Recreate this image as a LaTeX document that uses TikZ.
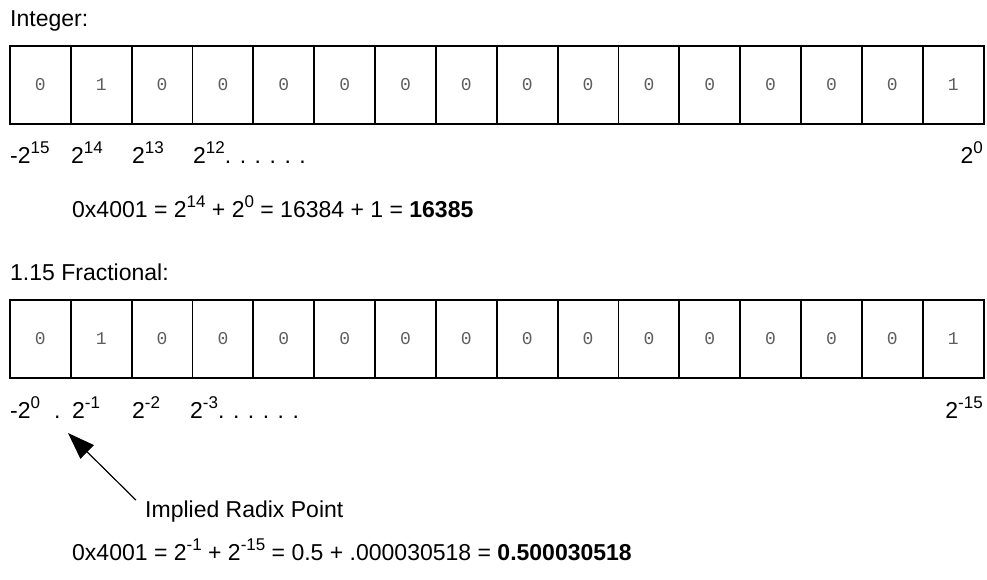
\documentclass[tikz,border=0pt]{standalone}
\usepackage{fontspec}
\setmainfont{Liberation Sans}
\newfontfamily\bitfont{Liberation Mono}
\usetikzlibrary{arrows.meta,positioning}
\definecolor{bitgray}{HTML}{5E5E5E}
\newcommand\pw[1]{\raisebox{9.5pt}{\fontsize{17}{17}\selectfont#1}}
\tikzset{
  bitcell/.style={draw=black,line width=1.9pt,minimum width=60.85pt,
                  minimum height=78pt,inner sep=0pt,text=bitgray,
                  font=\bitfont\fontsize{18}{18}\selectfont},
  caption/.style={font=\fontsize{23}{26}\selectfont,inner sep=0pt,
                  anchor=base west},
  weight/.style={caption},
  pointer/.style={-{Triangle[length=27pt,width=19pt]},line width=1.2pt},
}

\begin{document}
\begin{tikzpicture}[x=1pt,y=-1pt]
  \useasboundingbox (0,0) rectangle (987,579);
  % Integer row
  \node[caption](intcap)at(10,26){Integer:};
  \foreach \b [count=\i from 0] in {0,1,0,0,0,0,0,0,0,0,0,0,0,0,0,1}{
    \node[bitcell](i\i)at({40.4+60.85*\i},85){\b};}
  \node[weight](iw15)at(10,163){-2\pw{15}};
  \node[weight](iw14)at(71,163){2\pw{14}};
  \node[weight](iw13)at(132,163){2\pw{13}};
  \node[weight](iw12)at(193,163){2\pw{12}. . . . . .};
  \node[weight,anchor=base east](iw0)at(983,163){2\pw{0}};
  \node[caption](inteq)at(72,217)
    {0x4001 = 2\pw{14} + 2\pw{0} = 16384 + 1 = \textbf{16385}};
  % Fractional row
  \node[caption](fraccap)at(10,280){1.15 Fractional:};
  \foreach \b [count=\i from 0] in {0,1,0,0,0,0,0,0,0,0,0,0,0,0,0,1}{
    \node[bitcell](f\i)at({40.4+60.85*\i},339){\b};}
  \node[weight](fw0)at(10,418){-2\pw{0}};
  \node[weight](radixdot)at(54,418){.};
  \node[weight](fw1)at(72,418){2\pw{-1}};
  \node[weight](fw2)at(132,418){2\pw{-2}};
  \node[weight](fw3)at(190,418){2\pw{-3}. . . . . .};
  \node[weight,anchor=base east](fw15)at(983,418){2\pw{-15}};
  % Radix point note
  \node[caption](radix)at(145,517){Implied Radix Point};
  \coordinate(tip)at(68,433);
  \draw[pointer]([xshift=-9pt]radix.north west)--(tip);
  \node[caption](fraceq)at(72,560)
    {0x4001 = 2\pw{-1} + 2\pw{-15} = 0.5 + .000030518 = \textbf{0.500030518}};
\end{tikzpicture}
\end{document}
